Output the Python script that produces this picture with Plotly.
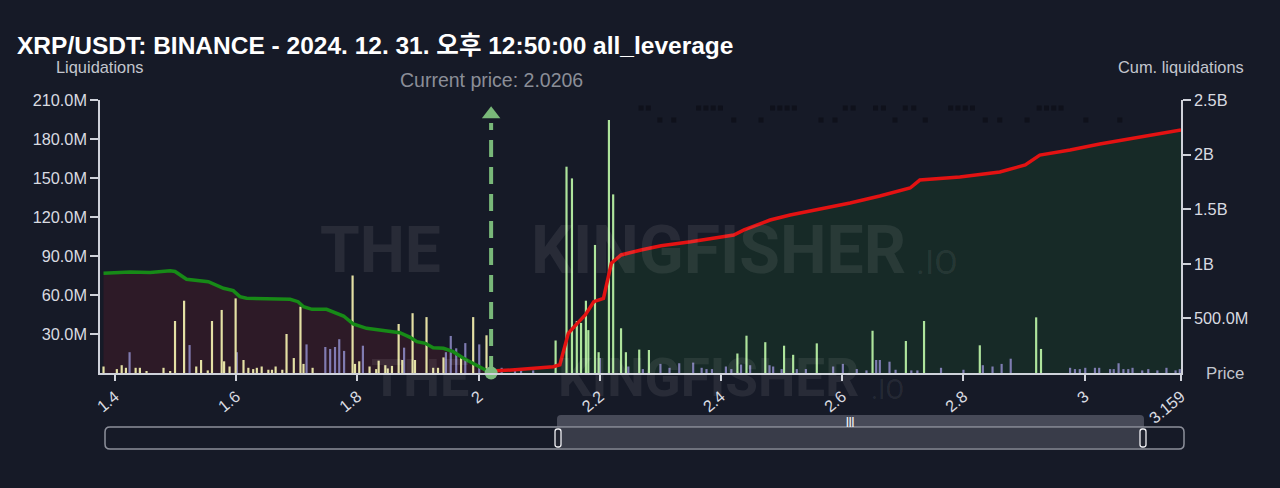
import plotly.graph_objects as go

# ---------------- data ----------------
current_price = 2.0206

# long-side liquidation bars (below current price), values in millions
long_x = [1.381, 1.403, 1.411, 1.418, 1.434, 1.441, 1.452, 1.480, 1.491, 1.499, 1.514, 1.534, 1.542,
          1.553, 1.560, 1.576, 1.580, 1.589, 1.599, 1.612, 1.620, 1.628, 1.634, 1.642, 1.653, 1.659,
          1.665, 1.676, 1.683, 1.695, 1.706, 1.711, 1.726, 1.792, 1.796, 1.803, 1.820, 1.831, 1.835,
          1.846, 1.850, 1.857, 1.868, 1.874, 1.891, 1.895, 1.914, 1.925, 1.933, 1.942, 1.971, 1.991, 2.013]
long_y = [5, 3, 6, 4, 4, 4, 1.5, 4, 1.5, 40, 55.6, 5, 10,
          2, 40, 48.5, 9, 5, 57.4, 10, 4, 3, 4, 5, 2.5, 2.5,
          5, 2.5, 30, 11.5, 51, 7, 4, 75, 7, 9, 5, 3, 9.5,
          6, 3.5, 5.5, 37.7, 10, 46, 10, 43, 4, 4, 12, 13, 43, 29]

# short-side liquidation bars (above current price), values in millions
short_x = [2.127, 2.145, 2.154, 2.162, 2.169, 2.177, 2.181, 2.192, 2.198, 2.215, 2.222, 2.235, 2.243,
           2.265, 2.281, 2.427, 2.442, 2.473, 2.504, 2.519, 2.558, 2.650, 2.705, 2.735, 2.827, 2.920, 2.928]
short_y = [25, 158.7, 149.7, 40, 38.5, 55.6, 33, 98.5, 16, 194.6, 137.4, 34.4, 16,
           18, 17.7, 15, 28.7, 23.7, 21, 14, 22.8, 32.5, 24.6, 40, 21.3, 42.8, 18.5]

# secondary (grey/purple) bars, values in millions
other_x = [1.424, 1.523, 1.601, 1.716, 1.747, 1.755, 1.763, 1.770, 1.778, 1.809, 1.877, 1.946, 1.954,
           1.963, 1.978, 2.001,
           2.038, 2.060, 2.070, 2.090, 2.200, 2.247, 2.271, 2.300, 2.315, 2.331, 2.354, 2.368, 2.376,
           2.385, 2.408, 2.417, 2.433, 2.448, 2.480, 2.486, 2.500, 2.525, 2.540, 2.585, 2.601, 2.624,
           2.640, 2.656, 2.662, 2.678, 2.688, 2.714, 2.724, 2.763, 2.800, 2.832, 2.848, 2.863, 2.878,
           2.976, 2.984, 2.992, 3.001, 3.017, 3.024, 3.042, 3.048, 3.056, 3.064, 3.072, 3.079, 3.095,
           3.105, 3.120, 3.135, 3.150, 3.157]
other_y = [16, 21.5, 16, 22, 20, 18.5, 20, 26, 17, 21, 19.5, 16, 28.5,
           19, 23, 22,
           4, 2, 2, 2, 11.5, 5, 3, 7, 4, 7.5, 8, 4, 3,
           3, 5, 3, 6.5, 6, 6, 5, 3, 3, 3, 5, 7, 3,
           2, 10, 10, 8.7, 2.5, 2, 2, 4, 2.5, 6, 5, 7, 11,
           4, 3, 3, 4, 4, 4, 3, 3, 7.5, 3, 3, 4, 2,
           3, 2, 4, 2, 3]

# cumulative long liquidations (millions)
long_cum_x = [1.381, 1.425, 1.458, 1.491, 1.499, 1.518, 1.554, 1.579, 1.595, 1.606, 1.617, 1.689,
              1.702, 1.711, 1.725, 1.749, 1.777, 1.793, 1.815, 1.854, 1.870, 1.887, 1.898, 1.912,
              1.925, 1.942, 1.958, 1.975, 1.997, 2.019, 2.0206]
long_cum_y = [913, 925, 920, 937, 930, 858, 836, 776, 754, 699, 684, 675,
              653, 607, 583, 583, 522, 449, 409, 385, 369, 327, 287, 272,
              232, 226, 195, 135, 73, 12, 0]

# cumulative short liquidations (millions)
short_cum_x = [2.0206, 2.030, 2.060, 2.100, 2.123, 2.134, 2.148, 2.162, 2.176, 2.190, 2.206, 2.219,
               2.235, 2.268, 2.301, 2.350, 2.421, 2.438, 2.454, 2.481, 2.514, 2.563, 2.613, 2.662,
               2.712, 2.728, 2.794, 2.860, 2.902, 2.926, 2.976, 3.025, 3.091, 3.159]
short_cum_y = [0, 20, 30, 45, 58, 75, 363, 450, 531, 653, 684, 1005,
               1081, 1126, 1166, 1202, 1264, 1310, 1346, 1401, 1447, 1502, 1557, 1621,
               1694, 1767, 1795, 1841, 1905, 1996, 2042, 2097, 2161, 2225]

# faint dark label marks along the top (millions, left axis)
mark_row1_x = [2.268, 2.280, 2.363, 2.375, 2.387, 2.399, 2.485, 2.497, 2.509, 2.521, 2.605, 2.618,
               2.655, 2.668, 2.704, 2.718, 2.779, 2.791, 2.803, 2.815, 2.925, 2.937, 2.949, 2.961]
mark_row1_y = [203.8] * len(mark_row1_x)
mark_row2_x = [2.299, 2.322, 2.421, 2.466, 2.565, 2.588, 2.687, 2.737, 2.836, 2.860, 2.905, 3.002, 3.058]
mark_row2_y = [194.6] * len(mark_row2_x)

x_tickvals = [1.4, 1.6, 1.8, 2.0, 2.2, 2.4, 2.6, 2.8, 3.0, 3.159]
x_ticktext = ["1.4", "1.6", "1.8", "2", "2.2", "2.4", "2.6", "2.8", "3", "3.159"]
left_tickvals = [30, 60, 90, 120, 150, 180, 210]
left_ticktext = ["30.0M", "60.0M", "90.0M", "120.0M", "150.0M", "180.0M", "210.0M"]
right_tickvals = [500, 1000, 1500, 2000, 2500]
right_ticktext = ["500.0M", "1B", "1.5B", "2B", "2.5B"]

title_text = "XRP/USDT: BINANCE - 2024. 12. 31. 오후 12:50:00 all_leverage"

# ---------------- style ----------------
BG = "#161a27"
AX = "#cfd2da"
TXT = "#d9dbe1"
FONT = "Liberation Sans, Arial, Noto Sans CJK KR, sans-serif"
WM_FONT = "Roboto, Liberation Sans, sans-serif"

W, H = 1280, 488
ML, MR, MT, MB = 100, 99, 100, 115
PW, PH = W - ML - MR, H - MT - MB


def fx(px):
    return (px - ML) / PW


def fy(py):
    return (H - MB - py) / PH


def rrect(x0, y0, x1, y1, r):
    pts = [
        ("M", [(x0 + r, y0)]), ("L", [(x1 - r, y0)]), ("Q", [(x1, y0), (x1, y0 + r)]),
        ("L", [(x1, y1 - r)]), ("Q", [(x1, y1), (x1 - r, y1)]), ("L", [(x0 + r, y1)]),
        ("Q", [(x0, y1), (x0, y1 - r)]), ("L", [(x0, y0 + r)]), ("Q", [(x0, y0), (x0 + r, y0)]),
    ]
    s = ""
    for cmd, ps in pts:
        s += cmd + " " + " ".join(f"{fx(a):.5f},{fy(b):.5f}" for a, b in ps) + " "
    return s + "Z"


fig = go.Figure()

# fills (bottom layer, primary y)
fig.add_trace(go.Scatter(x=long_cum_x, y=long_cum_y, mode="lines", fill="tozeroy",
                         fillcolor="#2d1a27", line=dict(width=0, color="rgba(0,0,0,0)"),
                         yaxis="y", hoverinfo="skip"))
fig.add_trace(go.Scatter(x=short_cum_x, y=short_cum_y, mode="lines", fill="tozeroy",
                         fillcolor="#172a27", line=dict(width=0, color="rgba(0,0,0,0)"),
                         yaxis="y", hoverinfo="skip"))

# bars (y2, left axis)
BW = 0.0036
fig.add_trace(go.Bar(x=other_x, y=other_y, width=BW, marker=dict(color="#8a86c0", line=dict(width=0)),
                     yaxis="y2", opacity=0.9))
fig.add_trace(go.Bar(x=long_x, y=long_y, width=BW, marker=dict(color="#e4e0a4", line=dict(width=0)),
                     yaxis="y2"))
fig.add_trace(go.Bar(x=short_x, y=short_y, width=BW, marker=dict(color="#aee49c", line=dict(width=0)),
                     yaxis="y2"))
fig.add_trace(go.Scatter(x=mark_row1_x, y=mark_row1_y, mode="markers", yaxis="y2",
                         marker=dict(symbol="square", size=5, color="#0f111b")))
fig.add_trace(go.Scatter(x=mark_row2_x, y=mark_row2_y, mode="markers", yaxis="y2",
                         marker=dict(symbol="square", size=5, color="#0f111b")))

# lines (top layer, y3)
fig.add_trace(go.Scatter(x=long_cum_x, y=long_cum_y, mode="lines", yaxis="y3",
                         line=dict(color="#178a17", width=3.5)))
fig.add_trace(go.Scatter(x=short_cum_x, y=short_cum_y, mode="lines", yaxis="y3",
                         line=dict(color="#e31212", width=3.5)))

# current price marker
fig.add_trace(go.Scatter(x=[current_price, current_price], y=[0, 2290], mode="lines", yaxis="y3",
                         line=dict(color="#79b879", width=4, dash="17px,10px")))
fig.add_trace(go.Scatter(x=[current_price], y=[2370], mode="markers", yaxis="y3", cliponaxis=False,
                         marker=dict(symbol="triangle-up", size=16, color="#79b879")))
fig.add_trace(go.Scatter(x=[current_price], y=[0], mode="markers", yaxis="y3", cliponaxis=False,
                         marker=dict(symbol="circle", size=13, color="#7dba7d")))

axis_common = dict(showgrid=False, zeroline=False, showline=True, linecolor=AX, linewidth=1.5,
                   ticks="outside", tickcolor=AX, tickwidth=1.5,
                   tickfont=dict(size=16.3, color=TXT, family=FONT), fixedrange=True)

fig.update_layout(
    width=W, height=H,
    margin=dict(l=ML, r=MR, t=MT, b=MB),
    paper_bgcolor=BG, plot_bgcolor=BG,
    showlegend=False, barmode="overlay", hovermode=False,
    font=dict(family=FONT, color=TXT),
    title=dict(text=title_text, x=17 / W, xref="container", xanchor="left",
               y=1 - 45 / H, yref="container", yanchor="middle",
               font=dict(size=24.5, color="#ffffff", family=FONT, weight="bold")),
    xaxis=dict(range=[1.3752, 3.159], tickvals=x_tickvals, ticktext=x_ticktext, tickangle=-40,
               ticklen=6, **axis_common),
    yaxis=dict(range=[0, 2500], side="right", tickvals=right_tickvals, ticktext=right_ticktext,
               ticklen=8, **axis_common),
    yaxis2=dict(range=[0, 210], side="left", overlaying="y", tickvals=left_tickvals,
                ticktext=left_ticktext, ticklen=8, **axis_common),
    yaxis3=dict(range=[0, 2500], side="right", overlaying="y", visible=False, fixedrange=True),
)

ann = []
ann.append(dict(text="Liquidations", x=fx(99), y=fy(67), xref="paper", yref="paper",
                xanchor="center", yanchor="middle",
                showarrow=False, font=dict(size=16.4, color="#c3c6ce")))
ann.append(dict(text="Cum. liquidations", x=fx(1181), y=fy(67), xref="paper", yref="paper",
                xanchor="center", yanchor="middle",
                showarrow=False, font=dict(size=16.4, color="#c3c6ce")))
ann.append(dict(text="Price", x=fx(1224.5), y=fy(373), xref="paper", yref="paper",
                xanchor="center", yanchor="middle",
                showarrow=False, font=dict(size=16.8, color="#c3c6ce")))
ann.append(dict(text="Current price: 2.0206", x=current_price, y=fy(80), xref="x", yref="paper",
                xanchor="center", yanchor="middle",
                showarrow=False, font=dict(size=19.5, color="#8b8e98")))

# watermark
wm = "rgba(255,255,255,0.08)"
for cx, cy, txt, sz, bold in [
    (380, 250, "THE", 64, True), (718, 250, "KINGFISHER", 66, True), (937, 262, ".IO", 34, False),
    (420, 378, "THE", 52, True), (708, 378, "KINGFISHER", 53, True), (888, 390, ".IO", 27, False),
]:
    ann.append(dict(text=txt, x=fx(cx), y=fy(cy), xref="paper", yref="paper", showarrow=False,
                    xanchor="center", yanchor="middle",
                    font=dict(size=sz, color=wm, family=WM_FONT, weight="bold" if bold else "normal")))

# navigator "|||"
ann.append(dict(text="|||", x=fx(850), y=fy(421), xref="paper", yref="paper", showarrow=False,
                xanchor="center", yanchor="middle",
                font=dict(size=10, color="#f0f0f4", family=FONT, weight="bold")))
fig.update_layout(annotations=ann)

shapes = [
    dict(type="path", xref="paper", yref="paper", path=rrect(557, 415, 1144, 430, 4),
         fillcolor="#474a58", line=dict(width=0), layer="above"),
    dict(type="path", xref="paper", yref="paper", path=rrect(105, 427, 1184, 449, 5),
         fillcolor=BG, line=dict(color="#8d909b", width=1.5), layer="above"),
    dict(type="rect", xref="paper", yref="paper", x0=fx(558), x1=fx(1143), y0=fy(448), y1=fy(428),
         fillcolor="#393c49", line=dict(width=0), layer="above"),
    dict(type="path", xref="paper", yref="paper", path=rrect(555, 429, 561, 447, 2.5),
         fillcolor="#20232f", line=dict(color="#f0f0f4", width=1.3), layer="above"),
    dict(type="path", xref="paper", yref="paper", path=rrect(1140, 429, 1146, 447, 2.5),
         fillcolor="#20232f", line=dict(color="#f0f0f4", width=1.3), layer="above"),
]
fig.update_layout(shapes=shapes)

fig.write_html("out.html", config={"displayModeBar": False},
               post_script="document.body.style.margin='0';document.body.style.background='#161a27';"
                           "document.body.style.overflow='hidden';")
